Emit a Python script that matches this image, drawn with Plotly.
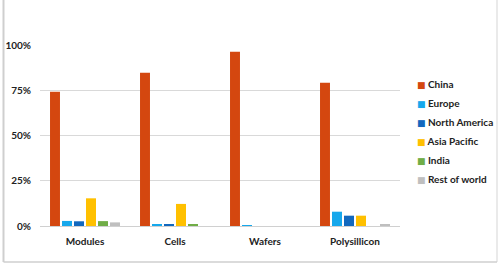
import plotly.graph_objects as go

categories = ["Modules", "Cells", "Wafers", "Polysillicon"]
regions = ["China", "Europe", "North America", "Asia Pacific", "India", "Rest of world"]
china = [0.742, 0.847, 0.963, 0.792]
europe = [0.028, 0.008, 0.005, 0.079]
north_america = [0.026, 0.008, 0.0, 0.057]
asia_pacific = [0.153, 0.122, 0.0, 0.057]
india = [0.027, 0.010, 0.0, 0.0]
rest_of_world = [0.020, 0.0, 0.0, 0.009]
yticks = [0, 0.25, 0.5, 0.75, 1.0]
ytick_labels = ["0%", "25%", "50%", "75%", "100%"]

series = [china, europe, north_america, asia_pacific, india, rest_of_world]
colors = ["#D4470F", "#16A8EC", "#1268BE", "#FFC000", "#70AD47", "#BFBFBF"]

FONT = "Lato"
fig = go.Figure()
for name, vals, c in zip(regions, series, colors):
    fig.add_trace(go.Bar(x=categories, y=vals, name=name, marker_color=c,
                         marker_line=dict(width=0), showlegend=False))
# legend entries: small coloured square glyph + name (symbol itself hidden)
for name, c in zip(regions, colors):
    label = (f"<span style='color:{c};font-family:DejaVu Sans;font-size:9px'>■</span>"
             f" {name}")
    fig.add_trace(go.Scatter(x=[None], y=[None], mode="markers", name=label,
                             marker=dict(size=1, color="rgba(0,0,0,0)"),
                             showlegend=True))

W, H = 500, 267
L, R, T, B = 40, 100, 45, 41
pw, ph = W - L - R, H - T - B

def px(x):
    return (x - L) / pw

def py(y):
    return (H - B - y) / ph

fig.update_layout(
    width=W, height=H,
    margin=dict(l=L, r=R, t=T, b=B, autoexpand=False),
    paper_bgcolor="white", plot_bgcolor="white",
    barmode="group", bargap=0.2, bargroupgap=0.17,
    font=dict(family=FONT, size=10, color="#222222", weight="bold"),
    xaxis=dict(showgrid=False, showline=True, linecolor="#D0D0D0", linewidth=1,
               ticks="", tickfont=dict(size=10, family=FONT, weight="bold"),
               ticklabelstandoff=6, fixedrange=True),
    yaxis=dict(range=[0, 1.0], tickvals=yticks, ticktext=ytick_labels,
               showgrid=True, gridcolor="#D9D9D9", gridwidth=1,
               zeroline=False, showline=False, ticks="",
               tickfont=dict(size=10, family=FONT, weight="bold"),
               ticklabelstandoff=8, fixedrange=True),
    legend=dict(x=px(377), y=py(70), xanchor="left", yanchor="top",
                font=dict(size=10, family=FONT, weight="bold"),
                itemwidth=30, tracegroupgap=0, bgcolor="rgba(0,0,0,0)"),
    showlegend=True,
)
# outer frame of the chart image
frame = "#CFCFCF"
fig.add_shape(type="line", xref="paper", yref="paper", x0=px(3.5), x1=px(3.5),
              y0=py(-2), y1=py(262), line=dict(color=frame, width=2))
fig.add_shape(type="line", xref="paper", yref="paper", x0=px(497), x1=px(497),
              y0=py(-2), y1=py(262), line=dict(color="#E3E3E3", width=1.5))
fig.add_shape(type="line", xref="paper", yref="paper", x0=px(3.5), x1=px(497),
              y0=py(262), y1=py(262), line=dict(color=frame, width=1.5))

fig.write_html("out.html")
